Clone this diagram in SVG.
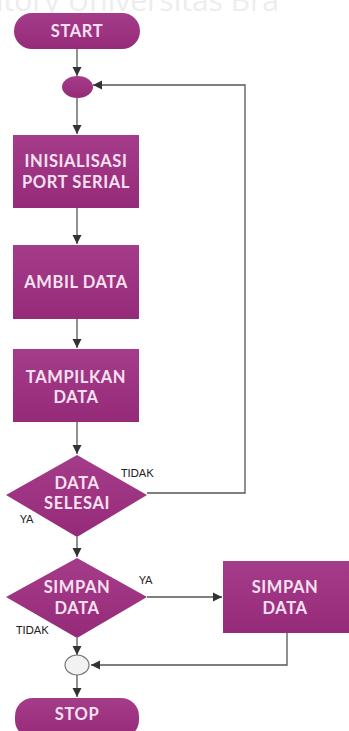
<svg xmlns="http://www.w3.org/2000/svg" width="349" height="731" viewBox="0 0 349 731">
<style>
.shape{fill:url(#pg);}
.t{font-family:Lato,"Open Sans","Liberation Sans",sans-serif;font-weight:bold;font-size:16.5px;letter-spacing:0.6px;fill:#f7e1f1;text-anchor:middle;}
.lbl{font-family:Lato,"Open Sans","Liberation Sans",sans-serif;font-size:11px;fill:#222;}
.c{stroke:#555;stroke-width:1.3;fill:none;}
.wm{font-family:"Open Sans","Liberation Sans",sans-serif;font-size:30px;fill:#ededed;}
</style>
<defs>
<linearGradient id="pg" x1="0" y1="0" x2="0" y2="1">
<stop offset="0" stop-color="#a53c8a"/>
<stop offset="1" stop-color="#952a78"/>
</linearGradient>
<marker id="ah" markerWidth="10" markerHeight="10" refX="9" refY="5" orient="auto" markerUnits="userSpaceOnUse">
<path d="M0,0.5 L9,5 L0,9.5 Z" fill="#333"/>
</marker>
</defs>
<rect width="349" height="731" fill="#ffffff"/>
<text class="wm" x="-4" y="11">itory Universitas Bra</text>
<g id="connectors">
<line class="c" x1="77" y1="49" x2="77" y2="76" marker-end="url(#ah)"/>
<polyline class="c" points="147,493 245,493 245,85 93,85" marker-end="url(#ah)"/>
<line class="c" x1="77" y1="98" x2="77" y2="134" marker-end="url(#ah)"/>
<line class="c" x1="77" y1="208" x2="77" y2="244" marker-end="url(#ah)"/>
<line class="c" x1="77" y1="319" x2="77" y2="348" marker-end="url(#ah)"/>
<line class="c" x1="77" y1="422" x2="77" y2="454" marker-end="url(#ah)"/>
<line class="c" x1="77" y1="537" x2="77" y2="557" marker-end="url(#ah)"/>
<line class="c" x1="147" y1="597" x2="222" y2="597" marker-end="url(#ah)"/>
<line class="c" x1="77" y1="638" x2="77" y2="655" marker-end="url(#ah)"/>
<polyline class="c" points="287,633 287,665 91,665" marker-end="url(#ah)"/>
<line class="c" x1="77" y1="675" x2="77" y2="697" marker-end="url(#ah)"/>
</g>
<g id="start">
<rect class="shape" x="14" y="13" width="126" height="36" rx="18"/>
<text class="t" x="77" y="37">START</text>
</g>
<g id="merge1">
<ellipse class="shape" cx="77.5" cy="87" rx="15.5" ry="11"/>
</g>
<g id="init">
<rect class="shape" x="13" y="135" width="126" height="73"/>
<text class="t" x="76" y="167">INISIALISASI</text>
<text class="t" x="76" y="188">PORT SERIAL</text>
</g>
<g id="ambil">
<rect class="shape" x="13" y="245" width="126" height="74"/>
<text class="t" x="76" y="288">AMBIL DATA</text>
</g>
<g id="tampil">
<rect class="shape" x="13" y="349" width="126" height="73"/>
<text class="t" x="76" y="383">TAMPILKAN</text>
<text class="t" x="76" y="403">DATA</text>
</g>
<g id="selesai">
<polygon class="shape" points="77,455 147,495 77,537 6,495"/>
<text class="t" x="77" y="489">DATA</text>
<text class="t" x="77" y="509">SELESAI</text>
<text class="lbl" x="121" y="477">TIDAK</text>
<text class="lbl" x="20" y="523">YA</text>
</g>
<g id="simpanq">
<polygon class="shape" points="77,558 147,597 77,638 6,597"/>
<text class="t" x="77" y="593">SIMPAN</text>
<text class="t" x="77" y="614">DATA</text>
<text class="lbl" x="139" y="584">YA</text>
<text class="lbl" x="16" y="634">TIDAK</text>
</g>
<g id="simpan">
<rect class="shape" x="223" y="561" width="126" height="72"/>
<text class="t" x="285" y="593">SIMPAN</text>
<text class="t" x="285" y="614">DATA</text>
</g>
<g id="merge2">
<ellipse cx="77" cy="665" rx="12" ry="10" fill="#f2f2f2" stroke="#777" stroke-width="1.2"/>
</g>
<g id="stop">
<rect class="shape" x="15" y="698" width="124" height="40" rx="18"/>
<text class="t" x="77" y="720">STOP</text>
</g>
</svg>
